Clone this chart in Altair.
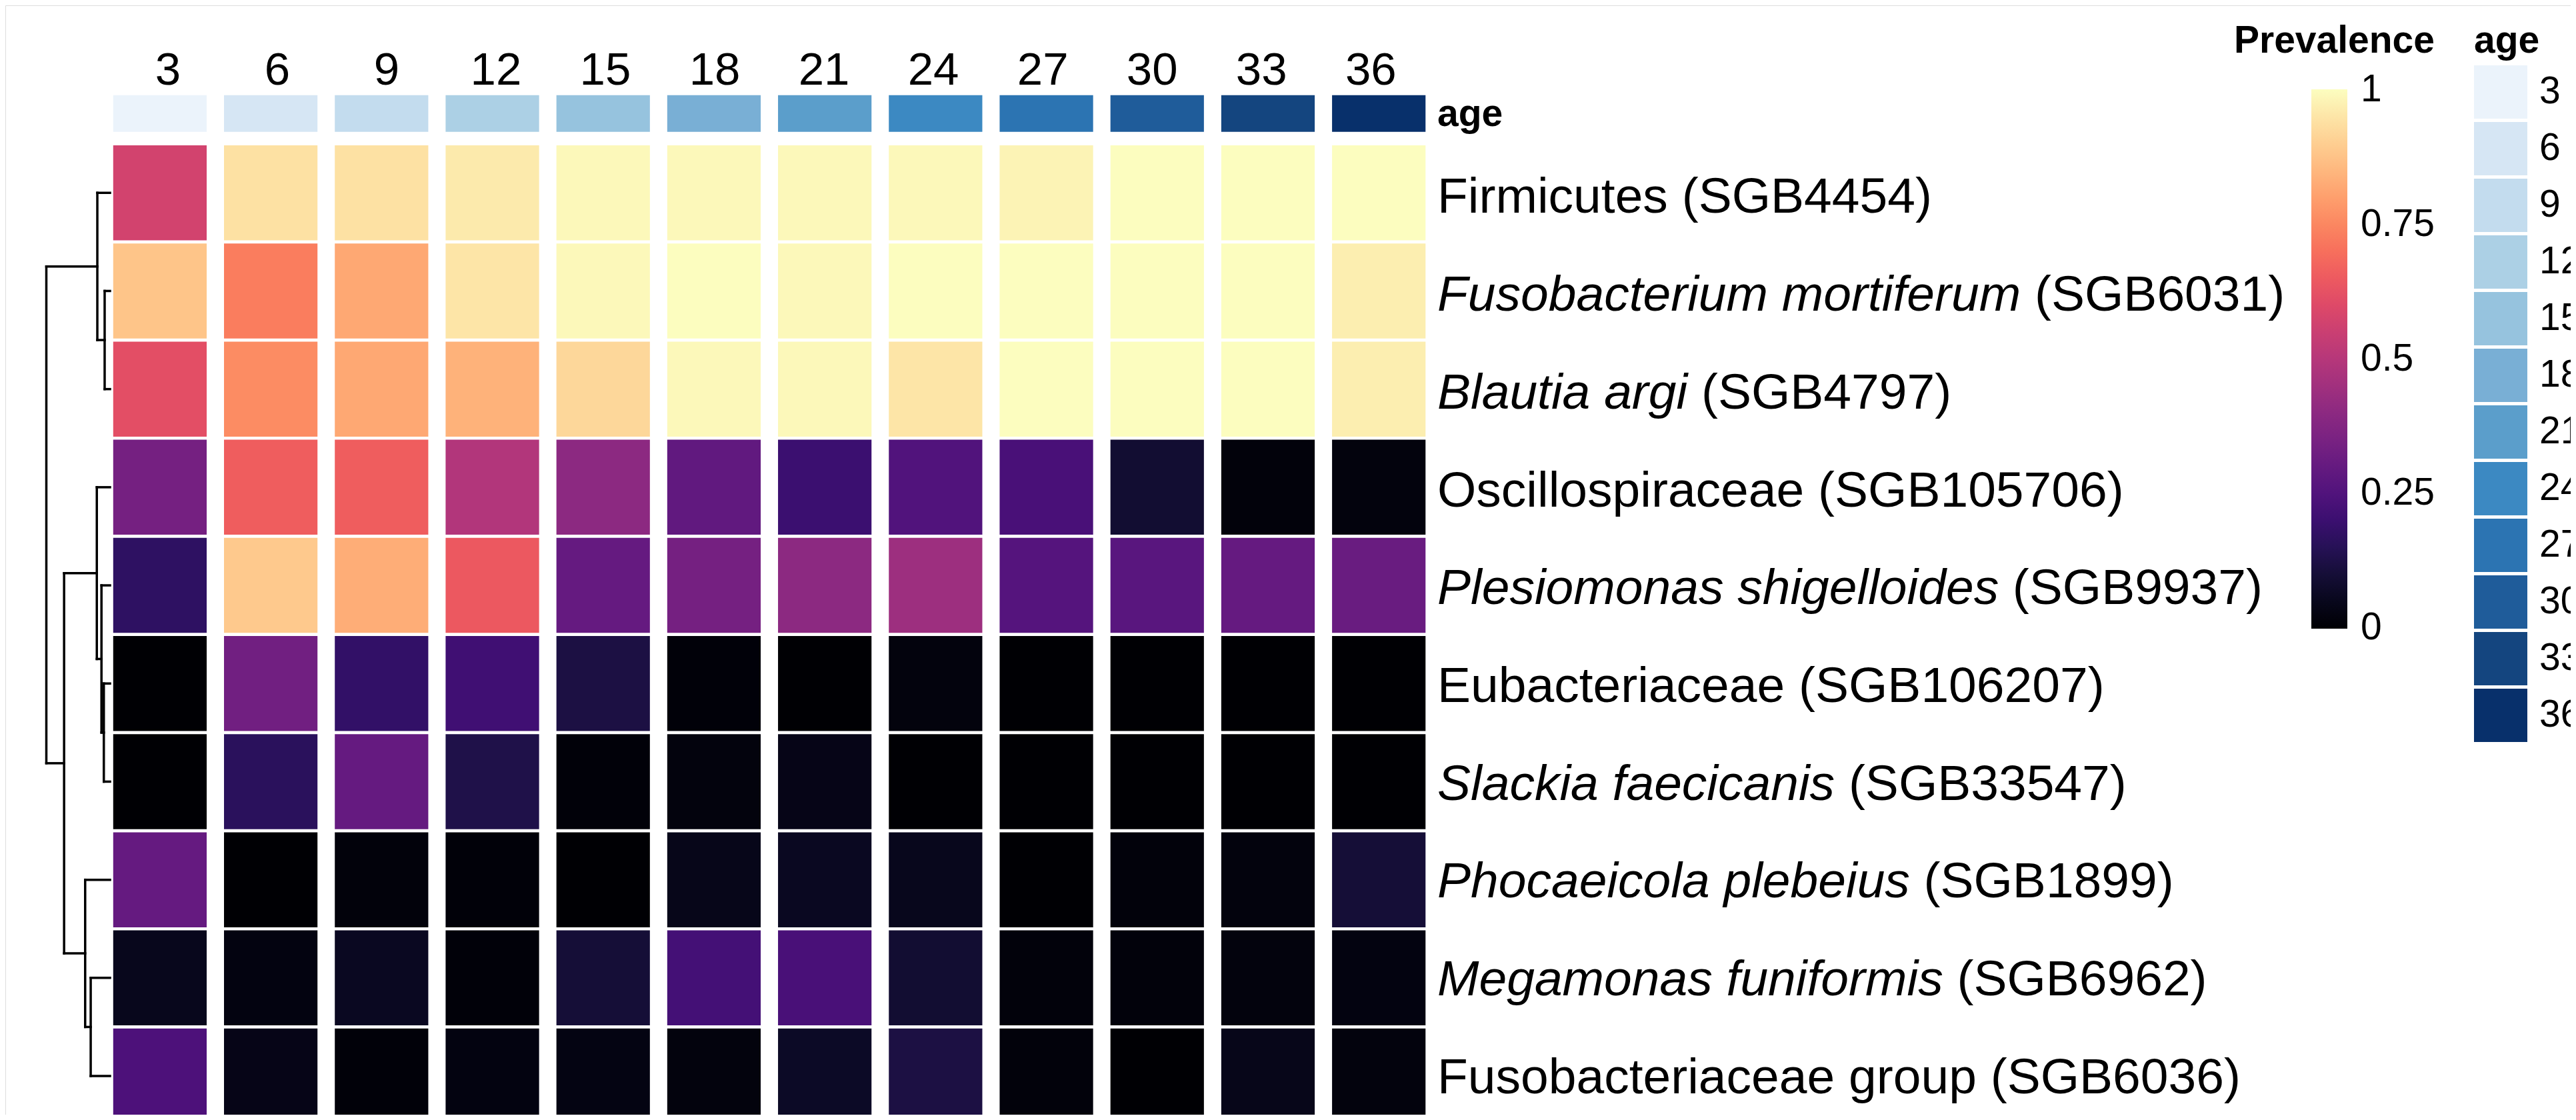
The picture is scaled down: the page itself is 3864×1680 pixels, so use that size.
import altair as alt
import pandas as pd

# ---------------- data ----------------
ages = ["3", "6", "9", "12", "15", "18", "21", "24", "27", "30", "33", "36"]

taxa_italic = ["", "Fusobacterium mortiferum", "Blautia argi", "",
               "Plesiomonas shigelloides", "", "Slackia faecicanis",
               "Phocaeicola plebeius", "Megamonas funiformis", ""]
taxa_rest = ["Firmicutes (SGB4454)", "(SGB6031)", "(SGB4797)",
             "Oscillospiraceae (SGB105706)", "(SGB9937)",
             "Eubacteriaceae (SGB106207)", "(SGB33547)", "(SGB1899)",
             "(SGB6962)", "Fusobacteriaceae group (SGB6036)"]

prev_firmicutes = [0.57, 0.94, 0.94, 0.96, 0.99, 0.99, 0.99, 0.99, 0.98, 1.0, 1.0, 1.0]
prev_fuso_mort = [0.88, 0.73, 0.82, 0.95, 0.99, 1.0, 0.99, 1.0, 1.0, 1.0, 1.0, 0.97]
prev_blautia = [0.615, 0.76, 0.82, 0.84, 0.92, 0.99, 0.99, 0.95, 1.0, 1.0, 1.0, 0.97]
prev_oscillo = [0.34, 0.66, 0.66, 0.49, 0.40, 0.29, 0.20, 0.25, 0.23, 0.09, 0.015, 0.02]
prev_plesio = [0.17, 0.89, 0.83, 0.645, 0.30, 0.34, 0.40, 0.44, 0.26, 0.27, 0.30, 0.31]
prev_eubact = [0.0, 0.33, 0.18, 0.21, 0.12, 0.01, 0.0, 0.02, 0.0, 0.0, 0.0, 0.0]
prev_slackia = [0.0, 0.16, 0.30, 0.13, 0.01, 0.02, 0.04, 0.0, 0.0, 0.0, 0.0, 0.0]
prev_phocae = [0.30, 0.0, 0.015, 0.01, 0.0, 0.045, 0.06, 0.05, 0.0, 0.015, 0.02, 0.10]
prev_megam = [0.05, 0.025, 0.06, 0.01, 0.10, 0.22, 0.23, 0.09, 0.015, 0.015, 0.02, 0.025]
prev_fusogrp = [0.24, 0.04, 0.01, 0.025, 0.03, 0.02, 0.07, 0.12, 0.015, 0.0, 0.045, 0.02]

prevalence = [prev_firmicutes, prev_fuso_mort, prev_blautia, prev_oscillo, prev_plesio,
              prev_eubact, prev_slackia, prev_phocae, prev_megam, prev_fusogrp]

# dendrogram merges (child a, child b, height relative to root); leaves are row indices
merges = [(1, 2, 0.084), (0, "m0", 0.199), (5, 6, 0.097), (4, "m2", 0.134),
          (3, "m3", 0.207), (8, 9, 0.303), (7, "m5", 0.39), ("m4", "m6", 0.721),
          ("m1", "m7", 1.0)]

# ---------------- helpers ----------------
taxa = [(i + " " + r).strip() for i, r in zip(taxa_italic, taxa_rest)]

ARIAL = {
    " ": 278, "(": 333, ")": 333,
    "A": 667, "B": 667, "C": 722, "D": 722, "E": 667, "F": 611, "G": 778, "H": 722,
    "I": 278, "J": 500, "K": 667, "L": 556, "M": 833, "N": 722, "O": 778, "P": 667,
    "Q": 778, "R": 722, "S": 667, "T": 611, "U": 722, "V": 667, "W": 944, "X": 667,
    "Y": 667, "Z": 611,
    "a": 556, "b": 556, "c": 500, "d": 556, "e": 556, "f": 278, "g": 556, "h": 556,
    "i": 222, "j": 222, "k": 500, "l": 222, "m": 833, "n": 556, "o": 556, "p": 556,
    "q": 556, "r": 333, "s": 500, "t": 278, "u": 556, "v": 500, "w": 722, "x": 500,
    "y": 500, "z": 500,
}
ROW_FS = 75


def text_width(s, size):
    return sum(ARIAL.get(c, 556) for c in s) * size / 1000.0


heat_records = []
for i, t in enumerate(taxa):
    for j, a in enumerate(ages):
        heat_records.append({"taxon": t, "age": a, "prevalence": prevalence[i][j]})
heat_df = pd.DataFrame(heat_records)

ann_df = pd.DataFrame({"age": ages, "track": ["age"] * len(ages)})

lab_df = pd.DataFrame({
    "taxon": taxa,
    "italic": taxa_italic,
    "rest": taxa_rest,
    "o_it": [0.0] * len(taxa),
    "o_rest": [text_width(it + " ", ROW_FS) if it else 0.0 for it in taxa_italic],
})

agename_df = pd.DataFrame({"track": ["age"], "o": [0.0], "name": ["age"]})

# dendrogram segments
pos = {i: (0.0, i + 0.5) for i in range(len(taxa))}
segs = []
for k, (a, b, h) in enumerate(merges):
    ha, ya = pos[a]
    hb, yb = pos[b]
    segs.append({"h1": h, "h2": h, "y1": ya, "y2": yb})
    segs.append({"h1": ha, "h2": h, "y1": ya, "y2": ya})
    segs.append({"h1": hb, "h2": h, "y1": yb, "y2": yb})
    pos["m%d" % k] = (h, (ya + yb) / 2.0)
seg_df = pd.DataFrame(segs)

# ---------------- scales ----------------
FONT = "Liberation Sans"
W, H = 3848, 1664

x_age = alt.Scale(domain=ages, range=[161.8, 2130.3], paddingInner=0.1564, paddingOuter=0)
y_taxa = alt.Scale(domain=taxa, range=[210, 1677.3], paddingInner=0.032, paddingOuter=0)
y_track = alt.Scale(domain=["age"], range=[134.7, 189.8], paddingInner=0, paddingOuter=0)
x_lab = alt.Scale(domain=[0, 1000], range=[2148, 3148], nice=False, zero=False)
x_dend = alt.Scale(domain=[0, 1], range=[157, 61.5], nice=False, zero=False)
y_dend = alt.Scale(domain=[0, 10], range=[207.65, 1679.65], nice=False, zero=False)

blues = ["#EBF3FB", "#D6E6F4", "#C3DCEE", "#ACD0E5", "#96C3DE", "#79AFD5",
         "#5B9ECB", "#3C89C2", "#2C74B2", "#1F5C9A", "#14457F", "#08306B"]

# ---------------- layers ----------------
dendro = alt.Chart(seg_df).mark_rule(color="black", strokeWidth=3.5, strokeCap="square").encode(
    x=alt.X("h1:Q", scale=x_dend, axis=None),
    x2="h2:Q",
    y=alt.Y("y1:Q", scale=y_dend, axis=None),
    y2="y2:Q",
)

ann = alt.Chart(ann_df).mark_rect().encode(
    x=alt.X("age:O", scale=x_age, axis=None),
    y=alt.Y("track:N", scale=y_track, axis=None),
    color=alt.Color("age:O", scale=alt.Scale(domain=ages, range=blues),
                    legend=alt.Legend(title="age", orient="none", legendX=3703, legendY=26,
                                      symbolType="square", symbolSize=6400,
                                      symbolStrokeWidth=0, symbolOpacity=1, rowPadding=5,
                                      labelFontSize=57, labelFont=FONT, labelColor="black",
                                      labelOffset=18, labelLimit=0,
                                      titleFontSize=57, titleFont=FONT, titleFontWeight="bold",
                                      titleColor="black", titlePadding=7, padding=0,
                                      titleAnchor="start", titleLimit=1000)),
)

collab = alt.Chart(ann_df).mark_text(font=FONT, fontSize=69, baseline="alphabetic",
                                     align="center", dy=-43, color="black").encode(
    x=alt.X("age:O", scale=x_age, axis=None),
    y=alt.Y("track:N", scale=y_track, axis=None),
    text="age:N",
)

heat = alt.Chart(heat_df).mark_rect().encode(
    x=alt.X("age:O", scale=x_age, axis=None),
    y=alt.Y("taxon:N", scale=y_taxa, axis=None),
    color=alt.Color("prevalence:Q",
                    scale=alt.Scale(scheme="magma", domain=[-0.001, 1.001], nice=False),
                    legend=alt.Legend(title="Prevalence", orient="none", legendX=3343, legendY=26,
                                      direction="vertical", gradientLength=809,
                                      gradientThickness=54, gradientStrokeWidth=0,
                                      values=[0, 0.25, 0.5, 0.75, 1], format=".2~f",
                                      labelFontSize=57, labelFont=FONT, labelColor="black",
                                      labelOffset=20, labelOverlap=False,
                                      titleFontSize=57, titleFont=FONT, titleFontWeight="bold",
                                      titleColor="black", titleAnchor="end", titlePadding=43,
                                      titleLimit=1000, padding=0)),
)

lab_it = alt.Chart(lab_df).mark_text(font=FONT, fontSize=ROW_FS, fontStyle="italic",
                                     align="left", baseline="middle", dy=5, color="black").encode(
    x=alt.X("o_it:Q", scale=x_lab, axis=None),
    y=alt.Y("taxon:N", scale=y_taxa, axis=None),
    text="italic:N",
)

lab_rest = alt.Chart(lab_df).mark_text(font=FONT, fontSize=ROW_FS, align="left",
                                       baseline="middle", dy=5, color="black").encode(
    x=alt.X("o_rest:Q", scale=x_lab, axis=None),
    y=alt.Y("taxon:N", scale=y_taxa, axis=None),
    text="rest:N",
)

agename = alt.Chart(agename_df).mark_text(font=FONT, fontSize=57, fontWeight="bold",
                                          align="left", baseline="middle", dy=2,
                                          color="black").encode(
    x=alt.X("o:Q", scale=x_lab, axis=None),
    y=alt.Y("track:N", scale=y_track, axis=None),
    text="name:N",
)

chart = alt.layer(dendro, ann, collab, heat, lab_it, lab_rest, agename).resolve_scale(
    x="independent", y="independent", color="independent"
).properties(
    width=W, height=H, padding=0,
    autosize=alt.AutoSizeParams(type="none"),
).configure_view(stroke=None).configure(font=FONT)

chart.save("out.html", embed_options={"renderer": "svg", "actions": False})
